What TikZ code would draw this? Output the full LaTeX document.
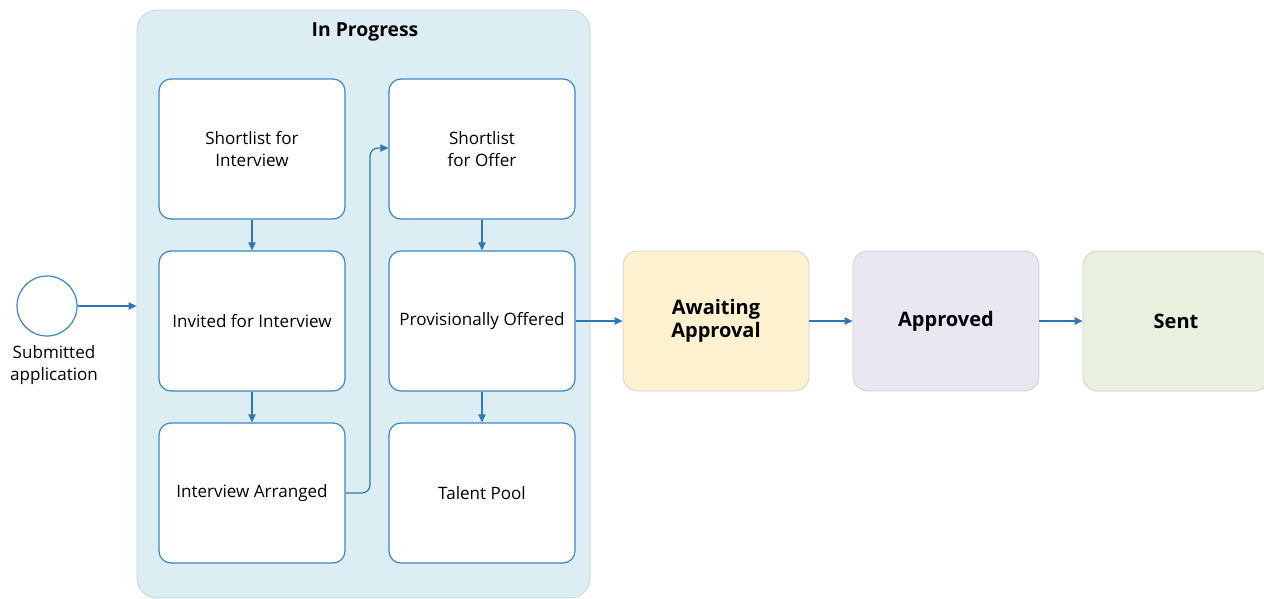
\documentclass[tikz,border=0pt]{standalone}
\usepackage{fontspec}
\setmainfont{Open Sans}
\usetikzlibrary{arrows.meta,positioning}
\definecolor{lanefill}{HTML}{DCEDF4}
\definecolor{laneline}{HTML}{C4D3DA}
\definecolor{boxline}{HTML}{3C86C6}
\definecolor{arrowc}{HTML}{2F77B8}
\definecolor{awaitfill}{HTML}{FDF1D0}
\definecolor{apprfill}{HTML}{E9E7F1}
\definecolor{sentfill}{HTML}{EAF1DE}
\definecolor{greyline}{HTML}{D0D0D0}
\tikzset{
  stagebox/.style={draw=boxline, line width=0.9pt, fill=white, rounded corners=9pt,
    minimum width=139.5pt, minimum height=105pt, align=center, font=\fontsize{12.8}{17}\selectfont, inner sep=0pt},
  statebox/.style={draw=greyline, line width=0.6pt, rounded corners=11pt,
    minimum width=139.5pt, minimum height=105pt, align=center, font=\fontsize{15}{17.5}\selectfont\bfseries, inner sep=0pt},
  flow/.style={draw=arrowc, line width=0.9pt, -{Triangle[length=6pt,width=5.5pt]}},
}
\begin{document}
\begin{tikzpicture}[x=0.75pt,y=-0.75pt]
\useasboundingbox (0,0) rectangle (1264,599);
% container
\node[draw=laneline, fill=lanefill, line width=0.6pt, rounded corners=15pt, minimum width=339.75pt, minimum height=441pt, inner sep=0pt] (lane) at (363.5,304) {};
\node[font=\fontsize{14.5}{17}\selectfont\bfseries] (lanetitle) at (365,32) {In Progress};
% start event
\node[circle, draw=boxline, line width=0.9pt, fill=white, minimum size=45pt, inner sep=0pt] (start) at (47,306) {};
\node[font=\fontsize{12.8}{16.5}\selectfont, align=center, anchor=north] (startlabel) at (54,341) {Submitted\\application};
% left column
\node[stagebox] (sfi) at (252,149) {Shortlist for\\Interview};
\node[stagebox] (ifi) at (252,321) {Invited for Interview};
\node[stagebox] (ia) at (252,493) {Interview Arranged};
% right column
\node[stagebox] (sfo) at (482,149) {Shortlist\\for Offer};
\node[stagebox] (po) at (482,321) {Provisionally Offered};
\node[stagebox] (tp) at (482,493) {Talent Pool};
% states
\node[statebox, fill=awaitfill] (await) at (716,321) {Awaiting\\Approval};
\node[statebox, fill=apprfill] (appr) at (946,321) {Approved};
\node[statebox, fill=sentfill] (sent) at (1176,321) {Sent};
% connectors
\draw[flow] (start.east) -- (lane.west |- start.east);
\draw[flow] (sfi) -- (ifi);
\draw[flow] (ifi) -- (ia);
\draw[flow] (sfo) -- (po);
\draw[flow] (po) -- (tp);
\draw[flow, rounded corners=6pt] (ia.east) -- (370,493) -- (370,148) -- (sfo.west |- 0,148);
\draw[flow] (po.east) -- (await.west);
\draw[flow] (await.east) -- (appr.west);
\draw[flow] (appr.east) -- (sent.west);
\end{tikzpicture}
\end{document}
